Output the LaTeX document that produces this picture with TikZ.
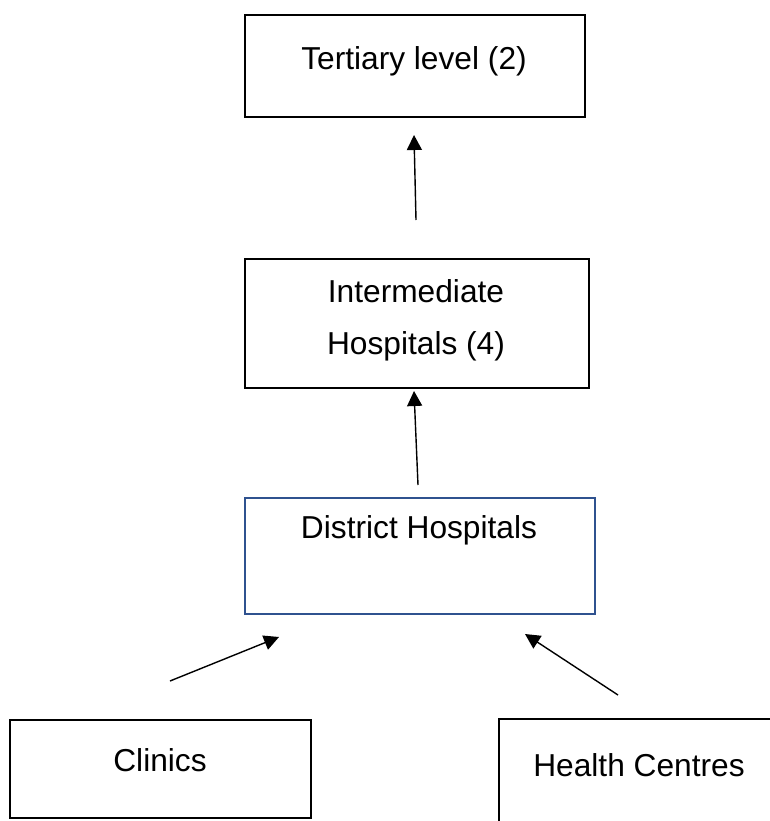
\documentclass[tikz,border=0pt]{standalone}
\usepackage{fontspec}
\setmainfont{Liberation Sans}
\usetikzlibrary{arrows.meta}
\definecolor{outlineblue}{RGB}{47,82,143}
\begin{document}
\begin{tikzpicture}[x=1pt,y=-1pt,
  box/.style={draw=black,line width=2.4pt,rectangle,inner sep=0pt,anchor=north west},
  lbl/.style={anchor=base,inner sep=0pt,font=\fontsize{31.7}{38}\selectfont},
  link/.style={line width=1.4pt,-{Triangle[length=15pt,width=15pt]}}]
  \clip (0,0) rectangle (770,821);
  \fill[white] (0,0) rectangle (770,821);

  % boxes (north-west corner, size)
  \node[box,minimum width=340pt,minimum height=102pt] (tert) at (244,14) {};
  \node[box,minimum width=344pt,minimum height=129pt] (inter) at (244,258) {};
  \node[box,draw=outlineblue,line width=2.2pt,minimum width=350pt,minimum height=116pt] (dist) at (244,497) {};
  \node[box,minimum width=301pt,minimum height=98pt] (clin) at (9,719) {};
  \node[box,minimum width=300pt,minimum height=120pt] (hc) at (498,718) {};

  % texts
  \node[lbl] (tertT) at (414,70) {Tertiary level (2)};
  \node[lbl] (interT1) at (416,302) {Intermediate};
  \node[lbl] (interT2) at (416,354) {Hospitals (4)};
  \node[lbl] (distT) at (419,538) {District Hospitals};
  \node[lbl] (clinT) at (160,771) {Clinics};
  \node[lbl] (hcT) at (639,776) {Health Centres};

  % connector ends
  \coordinate (a1s) at (416,220); \coordinate (a1e) at (414,135);
  \coordinate (a2s) at (418,485); \coordinate (a2e) at (414,391);
  \coordinate (a3s) at (170,681); \coordinate (a3e) at (279,637);
  \coordinate (a4s) at (618,695); \coordinate (a4e) at (525,634);

  \draw[link] (a1s) -- (a1e);
  \draw[link] (a2s) -- (a2e);
  \draw[link] (a3s) -- (a3e);
  \draw[link] (a4s) -- (a4e);
\end{tikzpicture}
\end{document}
